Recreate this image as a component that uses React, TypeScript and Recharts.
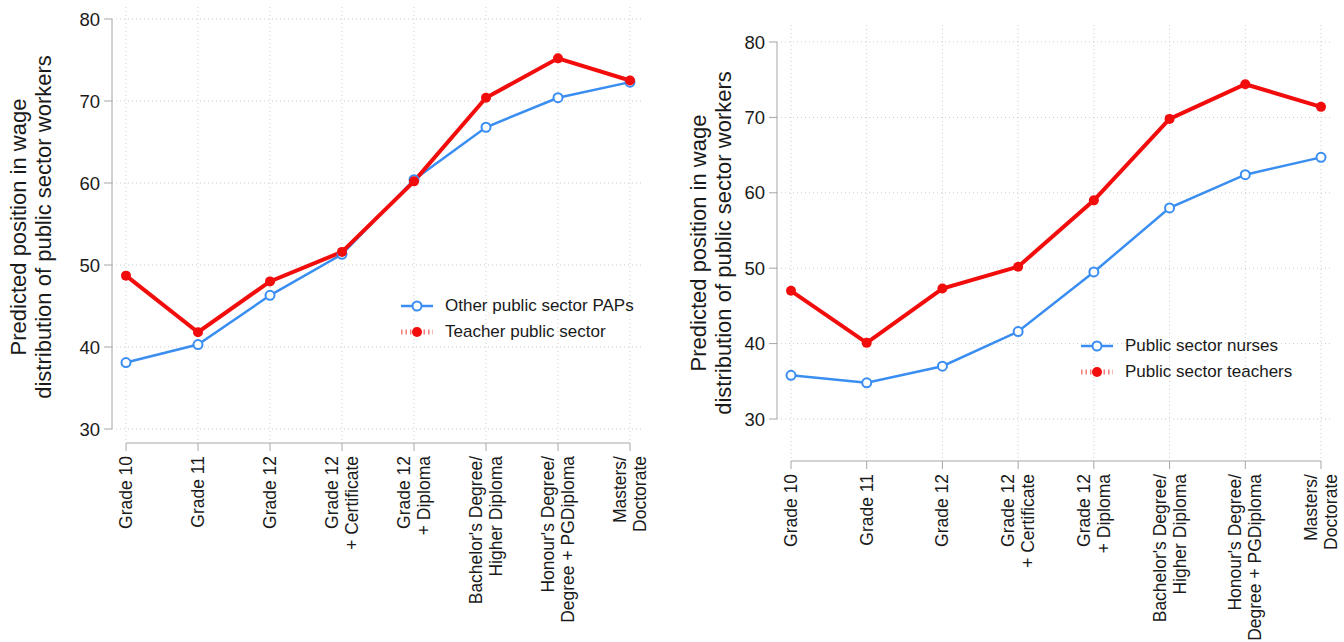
import { LineChart, Line, XAxis, YAxis, CartesianGrid, Legend } from "recharts";

const FONT = "'Liberation Sans', Arial, Helvetica, sans-serif";
const BLUE = "#3a8ef2";
const RED = "#f20d0d";
const AXIS = "#a6a6a6";
const INK = "#1a1a1a";

// education levels (line breaks are drawn as separate rotated lines)
const levels = [
  "Grade 10",
  "Grade 11",
  "Grade 12",
  "Grade 12\n+ Certificate",
  "Grade 12\n+ Diploma",
  "Bachelor's Degree/\nHigher Diploma",
  "Honour's Degree/\nDegree + PGDiploma",
  "Masters/\nDoctorate",
];

// left panel
const otherPaps = [38.1, 40.3, 46.3, 51.3, 60.4, 66.8, 70.4, 72.3];
const teacherPublic = [48.7, 41.8, 48.0, 51.6, 60.2, 70.4, 75.2, 72.5];

// right panel
const nursesPublic = [35.8, 34.8, 37.0, 41.6, 49.5, 58.0, 62.4, 64.7];
const teachersPublic = [47.0, 40.1, 47.3, 50.2, 59.0, 69.8, 74.4, 71.4];

const yTicks = [30, 40, 50, 60, 70, 80];

const yTitle = ["Predicted position in wage", "distribution of public sector workers"];

function LevelTick({ x, y, payload }: any) {
  const lines = String(payload.value).split("\n");
  return (
    <g>
      {lines.map((line, i) => {
        const cx = x + (i - (lines.length - 1) / 2) * 20;
        return (
          <text
            key={i}
            x={cx}
            y={y}
            transform={`rotate(-90, ${cx}, ${y})`}
            textAnchor="end"
            dominantBaseline="central"
            fontSize={17.5}
            fontFamily={FONT}
            fill={INK}
          >
            {line}
          </text>
        );
      })}
    </g>
  );
}

function LegendBox({ payload }: any) {
  return (
    <div style={{ fontFamily: FONT, fontSize: 17, color: INK }}>
      {(payload || []).map((entry: any) => {
        const dashed = entry.color === RED;
        return (
          <div key={entry.value} style={{ display: "flex", alignItems: "center", height: 26 }}>
            <svg width={34} height={14} style={{ marginRight: 11 }}>
              <line
                x1={1}
                y1={7}
                x2={33}
                y2={7}
                stroke={entry.color}
                strokeWidth={dashed ? 5 : 2.5}
                strokeDasharray={dashed ? "1.5 3" : undefined}
                strokeOpacity={dashed ? 0.55 : 1}
              />
              <circle
                cx={17}
                cy={7}
                r={dashed ? 5 : 4.5}
                fill={dashed ? RED : "#fff"}
                stroke={entry.color}
                strokeWidth={dashed ? 0 : 2}
              />
            </svg>
            <span>{entry.value}</span>
          </div>
        );
      })}
    </div>
  );
}

interface PanelLayout {
  left: number;
  width: number;
  marginLeft: number;
  marginRight: number;
  marginTop: number;
  gapBelow: number;
  xAxisHeight: number;
  grid: { x: number; y: number; width: number; height: number };
  legend: { left: number; top: number };
  title: { cx: number; cy: number };
}

interface PanelProps {
  blueName: string;
  blue: number[];
  redName: string;
  red: number[];
  layout: PanelLayout;
}

function Panel({ blueName, blue, redName, red, layout }: PanelProps) {
  const data = levels.map((label, i) => ({ label, blue: blue[i], red: red[i] }));
  return (
    <div style={{ position: "absolute", left: layout.left, top: 0, width: layout.width, height: 642 }}>
      <LineChart
        width={layout.width}
        height={642}
        data={data}
        margin={{ top: layout.marginTop, right: layout.marginRight, bottom: 0, left: layout.marginLeft }}
      >
        <CartesianGrid
          xAxisId="main"
          yAxisId="main"
          x={layout.grid.x}
          y={layout.grid.y}
          width={layout.grid.width}
          height={layout.grid.height}
          stroke="#cdcdcd"
          strokeDasharray="1 3"
        />
        {/* empty axes first, so the real axes sit a little away from the plot corner */}
        <XAxis xAxisId="gap" dataKey="label" height={layout.gapBelow} axisLine={false} tickLine={false} tick={false} />
        <YAxis yAxisId="gap" width={14} axisLine={false} tickLine={false} tick={false} />
        <XAxis
          xAxisId="main"
          dataKey="label"
          height={layout.xAxisHeight}
          interval={0}
          stroke={AXIS}
          tickSize={8}
          tickMargin={5}
          tick={<LevelTick />}
        />
        <YAxis
          yAxisId="main"
          width={40}
          domain={[30, 80]}
          ticks={yTicks}
          stroke={AXIS}
          tickSize={8}
          tickMargin={4}
          tick={{ fontSize: 18.5, fill: INK, fontFamily: FONT }}
        />
        <Legend
          layout="vertical"
          align="center"
          verticalAlign="middle"
          wrapperStyle={{ left: layout.legend.left, top: layout.legend.top, width: "auto" }}
          content={<LegendBox />}
        />
        <Line
          xAxisId="main"
          yAxisId="main"
          type="linear"
          dataKey="blue"
          name={blueName}
          stroke={BLUE}
          strokeWidth={2.5}
          dot={{ r: 4.5, stroke: BLUE, strokeWidth: 2, fill: "#fff" }}
          activeDot={false}
          isAnimationActive={false}
        />
        <Line
          xAxisId="main"
          yAxisId="main"
          type="linear"
          dataKey="red"
          name={redName}
          stroke={RED}
          strokeWidth={4}
          dot={{ r: 5, stroke: RED, strokeWidth: 0, fill: RED }}
          activeDot={false}
          isAnimationActive={false}
        />
      </LineChart>
      <div
        style={{
          position: "absolute",
          left: layout.title.cx,
          top: layout.title.cy,
          transform: "translate(-50%, -50%) rotate(-90deg)",
          whiteSpace: "nowrap",
          textAlign: "center",
          fontFamily: FONT,
          fontSize: 22,
          lineHeight: "25px",
          color: INK,
        }}
      >
        {yTitle[0]}
        <br />
        {yTitle[1]}
      </div>
    </div>
  );
}

const leftLayout: PanelLayout = {
  left: 0,
  width: 660,
  marginLeft: 72,
  marginRight: 30,
  marginTop: 19,
  gapBelow: 14,
  xAxisHeight: 199,
  grid: { x: 112, y: 7, width: 531, height: 436 },
  legend: { left: 400, top: 293 },
  title: { cx: 31, cy: 227 },
};

const rightLayout: PanelLayout = {
  left: 680,
  width: 664,
  marginLeft: 57,
  marginRight: 23,
  marginTop: 42,
  gapBelow: 42,
  xAxisHeight: 181,
  grid: { x: 97, y: 25, width: 555, height: 436 },
  legend: { left: 400, top: 333 },
  title: { cx: 31, cy: 243 },
};

export default function App() {
  return (
    <div style={{ position: "absolute", left: 0, top: 0, width: 1344, height: 642, background: "#fff", overflow: "hidden" }}>
      <Panel blueName="Other public sector PAPs" blue={otherPaps} redName="Teacher public sector" red={teacherPublic} layout={leftLayout} />
      <Panel blueName="Public sector nurses" blue={nursesPublic} redName="Public sector teachers" red={teachersPublic} layout={rightLayout} />
    </div>
  );
}
